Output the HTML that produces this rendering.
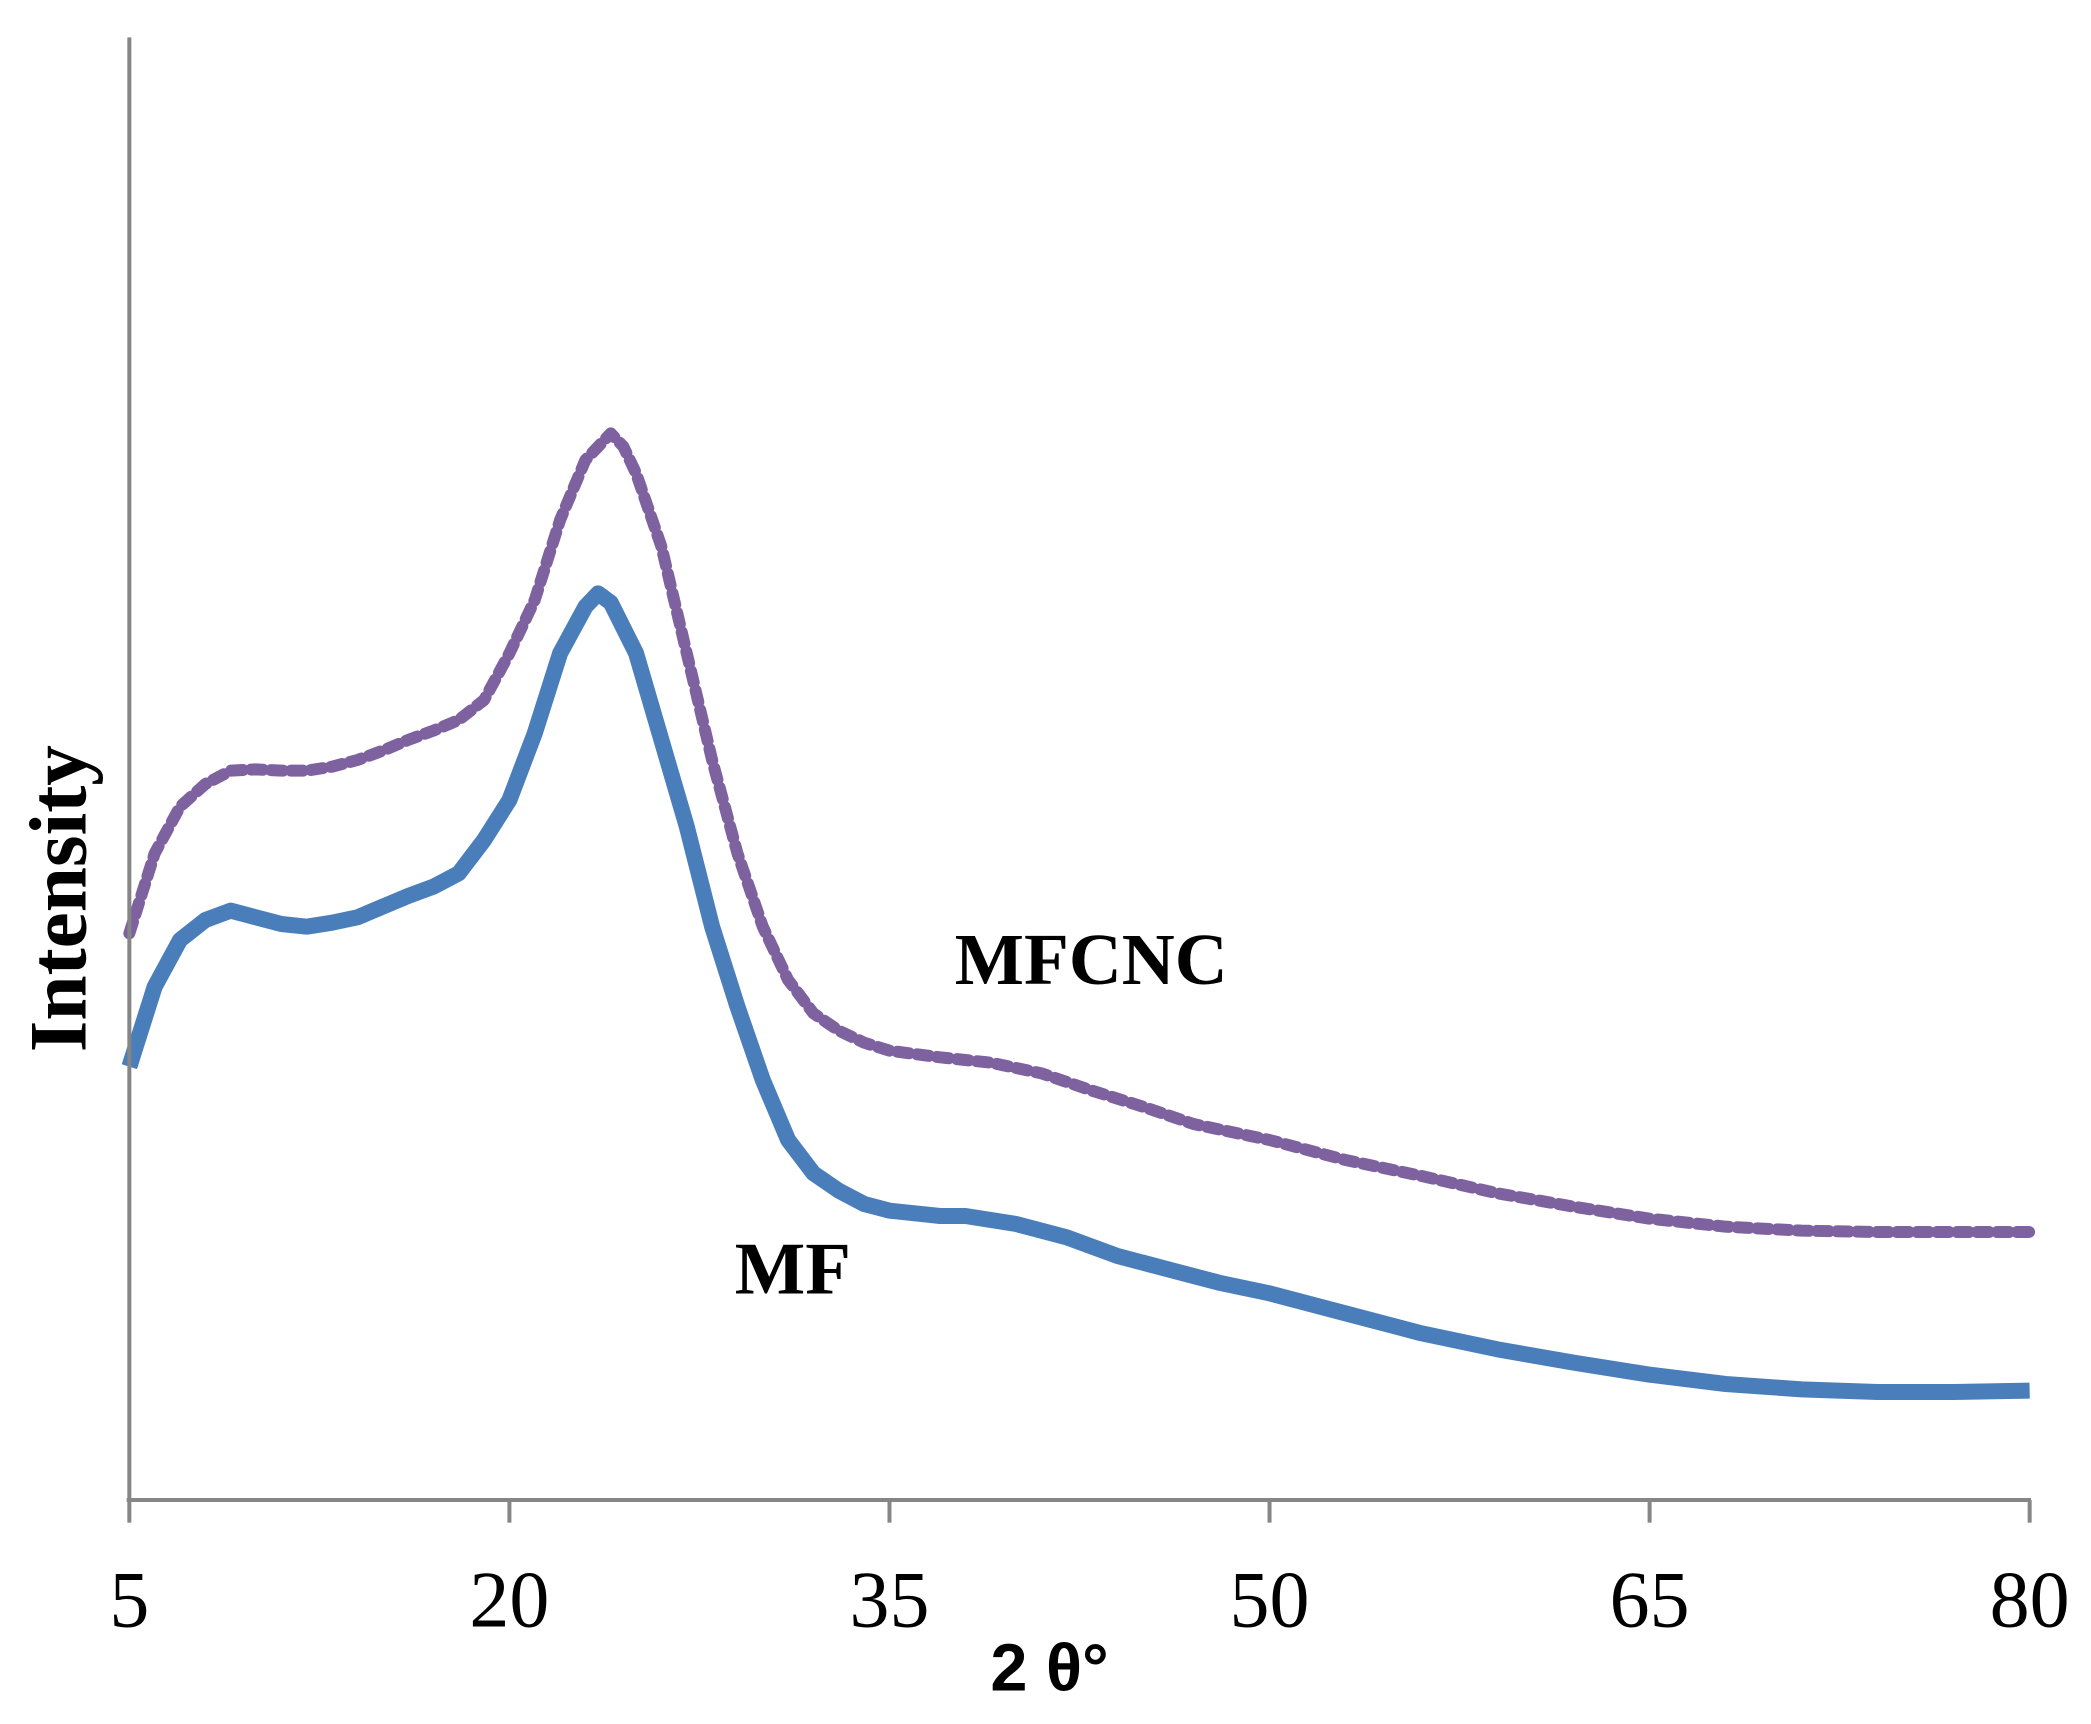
<!DOCTYPE html>
<html><head><meta charset="utf-8"><style>
html,body{margin:0;padding:0;background:#fff;}
svg{display:block;}
</style></head><body>
<svg id="chart" width="2091" height="1724" viewBox="0 0 1568 1293" preserveAspectRatio="none" xmlns="http://www.w3.org/2000/svg">
<rect width="1568" height="1293" fill="#fff"/>
<g id="marks"></g>
<line x1="97" y1="28" x2="97" y2="1125" stroke="#868686" stroke-width="3"/>
<line x1="95" y1="1125" x2="1523" y2="1125" stroke="#868686" stroke-width="3"/>
<g id="ticks"></g>
<text x="787" y="1268" text-anchor="middle" font-family="Liberation Sans, sans-serif" font-weight="bold" font-size="50">2 θ°</text>
<text transform="translate(64,674) rotate(-90)" text-anchor="middle" font-family="Liberation Serif, serif" font-weight="bold" font-size="61">Intensity</text>
<text x="716" y="738" font-family="Liberation Serif, serif" font-weight="bold" font-size="55">MFCNC</text>
<text x="551" y="970" font-family="Liberation Serif, serif" font-weight="bold" font-size="56">MF</text>
</svg>
<script>
const tickValues = [5, 20, 35, 50, 65, 80];
const mfX = [5,6,7,8,9,10,11,12,13,14,15,16,17,18,19,20,21,22,23,23.5,24,25,26,27,28,29,30,31,32,33,34,35,36,37,38,40,42,44,46,48,50,53,56,59,62,65,68,71,74,77,80];
const mfY = [325,385,420,435,442,437,432,430,433,437,445,453,460,470,495,525,575,635,670,680,673,635,570,505,430,370,315,270,245,232,222,217,215,213,213,207,197,183,173,163,155,140,125,113,103,94,87,83,81,81,82];
const mfcncX = [5,6,7,8,9,10,11,12,13,14,15,16,17,18,19,20,21,22,23,24,24.5,25,26,27,28,29,30,31,32,33,34,35,37,39,41,43,45,47,50,53,56,59,62,65,68,71,74,77,80];
const mfcncY = [425,485,520,537,547,548,547,547,550,555,562,570,577,585,600,635,675,735,780,800,790,770,715,635,555,485,430,390,365,352,343,337,332,328,320,307,295,282,270,255,243,230,220,211,205,202,201,201,201];
const xs = v => 97 + (v - 5) * (1522 - 97) / 75;
const ys = v => 1125 - v;
const NS = "http://www.w3.org/2000/svg";
const marks = document.getElementById('marks');
function line(X, Y, color, w, dash, name) {
  const p = document.createElementNS(NS, 'path');
  p.setAttribute('d', X.map((x, i) => (i ? 'L' : 'M') + xs(x).toFixed(1) + ',' + ys(Y[i]).toFixed(1)).join(''));
  p.setAttribute('fill', 'none');
  p.setAttribute('stroke', color);
  p.setAttribute('stroke-width', w);
  p.setAttribute('stroke-linejoin', 'round');
  if (dash) { p.setAttribute('stroke-dasharray', dash); p.setAttribute('stroke-linecap', 'round'); }
  
  
  marks.appendChild(p);
}
line(mfcncX, mfcncY, '#7E62A0', 9, '9 6', 'series-mfcnc');
line(mfX, mfY, '#4A7EBB', 12, null, 'series-mf');
const ticks = document.getElementById('ticks');
tickValues.forEach(v => {
  const l = document.createElementNS(NS, 'line');
  l.setAttribute('x1', xs(v)); l.setAttribute('x2', xs(v));
  l.setAttribute('y1', 1125); l.setAttribute('y2', 1142);
  l.setAttribute('stroke', '#868686'); l.setAttribute('stroke-width', 3);
  
  
  ticks.appendChild(l);
  const t = document.createElementNS(NS, 'text');
  t.setAttribute('x', xs(v)); t.setAttribute('y', 1220);
  t.setAttribute('text-anchor', 'middle');
  t.setAttribute('font-family', 'Liberation Serif, serif');
  t.setAttribute('font-size', '60');
  t.textContent = v;
  
  
  ticks.appendChild(t);
});
</script>
</body></html>
